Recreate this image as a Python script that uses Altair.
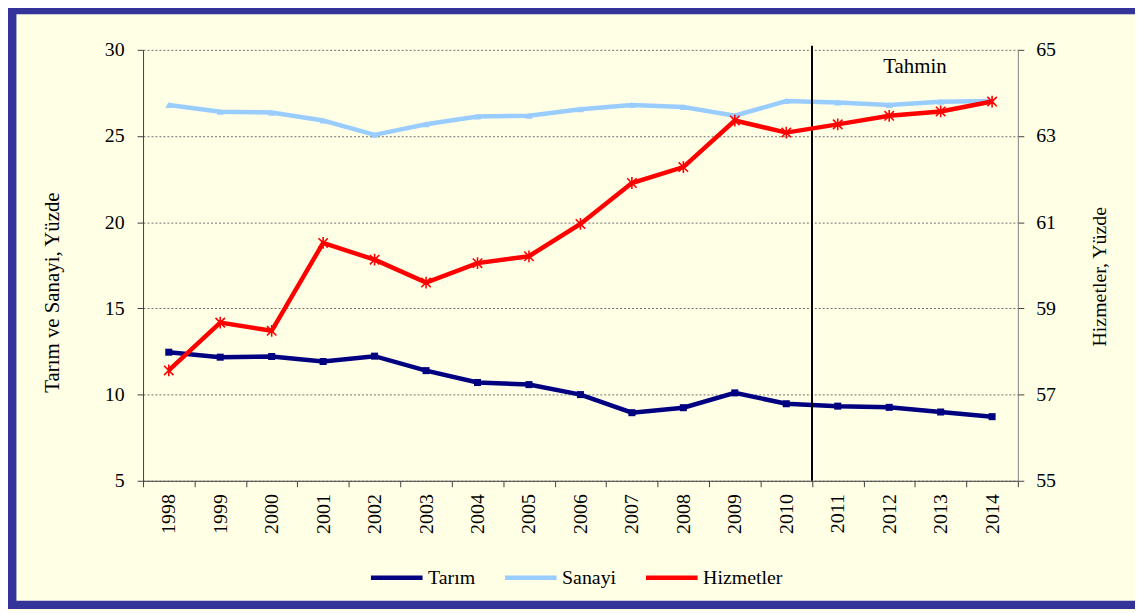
import altair as alt
import pandas as pd

years = [str(y) for y in range(1998, 2015)]
tarim = [12.46, 12.17, 12.21, 11.92, 12.23, 11.39, 10.70, 10.58, 10.00, 8.95, 9.24, 10.10, 9.47, 9.33, 9.26, 8.99, 8.72]
sanayi = [26.80, 26.41, 26.36, 25.90, 25.07, 25.68, 26.13, 26.18, 26.55, 26.80, 26.68, 26.18, 27.03, 26.95, 26.80, 26.99, 27.03]
hizmetler = [57.56, 58.67, 58.48, 60.52, 60.13, 59.60, 60.05, 60.21, 60.96, 61.91, 62.28, 63.36, 63.08, 63.27, 63.47, 63.57, 63.80]
series_names = ["Tarım", "Sanayi", "Hizmetler"]
series_colors = ["#000080", "#99CCFF", "#FF0000"]
left_ticks = [5, 10, 15, 20, 25, 30]
right_ticks = [55, 57, 59, 61, 63, 65]

FONT = "Liberation Serif, Times New Roman, DejaVu Serif, serif"

left_df = pd.DataFrame(
    {"year": years * 2, "series": ["Tarım"] * len(years) + ["Sanayi"] * len(years), "value": tarim + sanayi}
)
right_df = pd.DataFrame({"year": years, "series": ["Hizmetler"] * len(years), "value": hizmetler})

x_scale = alt.Scale(type="band", domain=years, paddingInner=0, paddingOuter=0)
x_axis = alt.Axis(
    title=None, labelAngle=270, labelAlign="right", labelBaseline="middle", tickBand="extent",
    tickSize=6, labelPadding=7, domainColor="#404040", tickColor="#404040", grid=False,
    labelFont=FONT, labelFontSize=20, labelColor="black",
)
X = alt.X("year:N", scale=x_scale, axis=x_axis)

left_scale = alt.Scale(domain=[5, 30], nice=False, zero=False)
right_scale = alt.Scale(domain=[55, 65], nice=False, zero=False)

left_axis = alt.Axis(
    values=left_ticks, grid=True, gridColor="#707070", gridDash=[2, 2], gridWidth=1,
    domainColor="#404040", tickColor="#404040", tickSize=6, labelPadding=13,
    labelFont=FONT, labelFontSize=20, labelColor="black",
    title="Tarım ve Sanayi, Yüzde", titleFont=FONT, titleFontSize=21, titleFontWeight="normal",
    titleColor="black", titleAngle=270, titleX=-91, titleY=244, titleAlign="center", titleBaseline="middle",
)
right_axis = alt.Axis(
    values=right_ticks, grid=False, orient="right",
    domainColor="#808080", tickColor="#404040", tickSize=6, labelPadding=12,
    labelFont=FONT, labelFontSize=20, labelColor="black",
    title="Hizmetler, Yüzde", titleFont=FONT, titleFontSize=20, titleFontWeight="normal",
    titleColor="black", titleAngle=270, titleX=82, titleY=228, titleAlign="center", titleBaseline="middle",
)

YL = alt.Y("value:Q", scale=left_scale, axis=left_axis)
YR = alt.Y("value:Q", scale=right_scale, axis=right_axis)

color_scale = alt.Scale(domain=series_names, range=series_colors)
legend = alt.Legend(
    title=None, orient="none", legendX=227, legendY=503, direction="horizontal",
    symbolType="stroke", symbolStrokeWidth=4.5, symbolSize=2704, columnPadding=20, labelOffset=3,
    labelFont=FONT, labelFontSize=20, labelColor="black",
)
C = alt.Color("series:N", scale=color_scale, legend=legend)

left_lines = alt.Chart(left_df).mark_line(strokeWidth=4.5).encode(x=X, y=YL, color=C)
left_points = alt.Chart(left_df).mark_point(filled=True, opacity=1, size=50).encode(
    x=X, y=YL, color=C,
    shape=alt.Shape("series:N", scale=alt.Scale(domain=["Tarım", "Sanayi"], range=["square", "triangle-up"]), legend=None),
)
rule = alt.Chart(pd.DataFrame({"year": ["2011"]})).mark_rule(color="black", strokeWidth=2).encode(
    x=alt.X("year:N", scale=x_scale, axis=x_axis, bandPosition=0),
    y=alt.value(-4), y2=alt.value(434),
)
tahmin = alt.Chart(pd.DataFrame({"year": ["2013"], "value": [29.0], "label": ["Tahmin"]})).mark_text(
    font=FONT, fontSize=21, color="black", align="center", baseline="middle"
).encode(
    x=alt.X("year:N", scale=x_scale, axis=x_axis, bandPosition=0),
    y=YL,
    text="label:N",
)
left_layer = alt.layer(left_lines, left_points, rule, tahmin)

asterisk = "M-1,-1L1,1M-1,1L1,-1M0,-1.25L0,1.25"
right_line = alt.Chart(right_df).mark_line(strokeWidth=4.5).encode(x=X, y=YR, color=C)
right_points = alt.Chart(right_df).mark_point(shape=asterisk, filled=False, opacity=1, size=90, strokeWidth=1.6).encode(
    x=X, y=YR, color=C,
)
right_layer = alt.layer(right_line, right_points)

border = alt.Chart(alt.Data(values=[{}])).mark_rect(fill="transparent", fillOpacity=0, stroke="#333399", strokeWidth=8.5).encode(
    x=alt.value(-131.75), x2=alt.value(1010), y=alt.value(-40), y2=alt.value(559)
)

chart = (
    alt.layer(left_layer, right_layer, border)
    .resolve_scale(y="independent")
    .properties(
        width=881, height=434,
        autosize=alt.AutoSizeParams(type="none"),
        padding={"left": 136, "top": 40, "right": 118, "bottom": 129},
    )
    .configure(background="#FFFFE6")
    .configure_view(stroke=None)
)

chart.save("out.html", embed_options={"renderer": "svg", "actions": False})
